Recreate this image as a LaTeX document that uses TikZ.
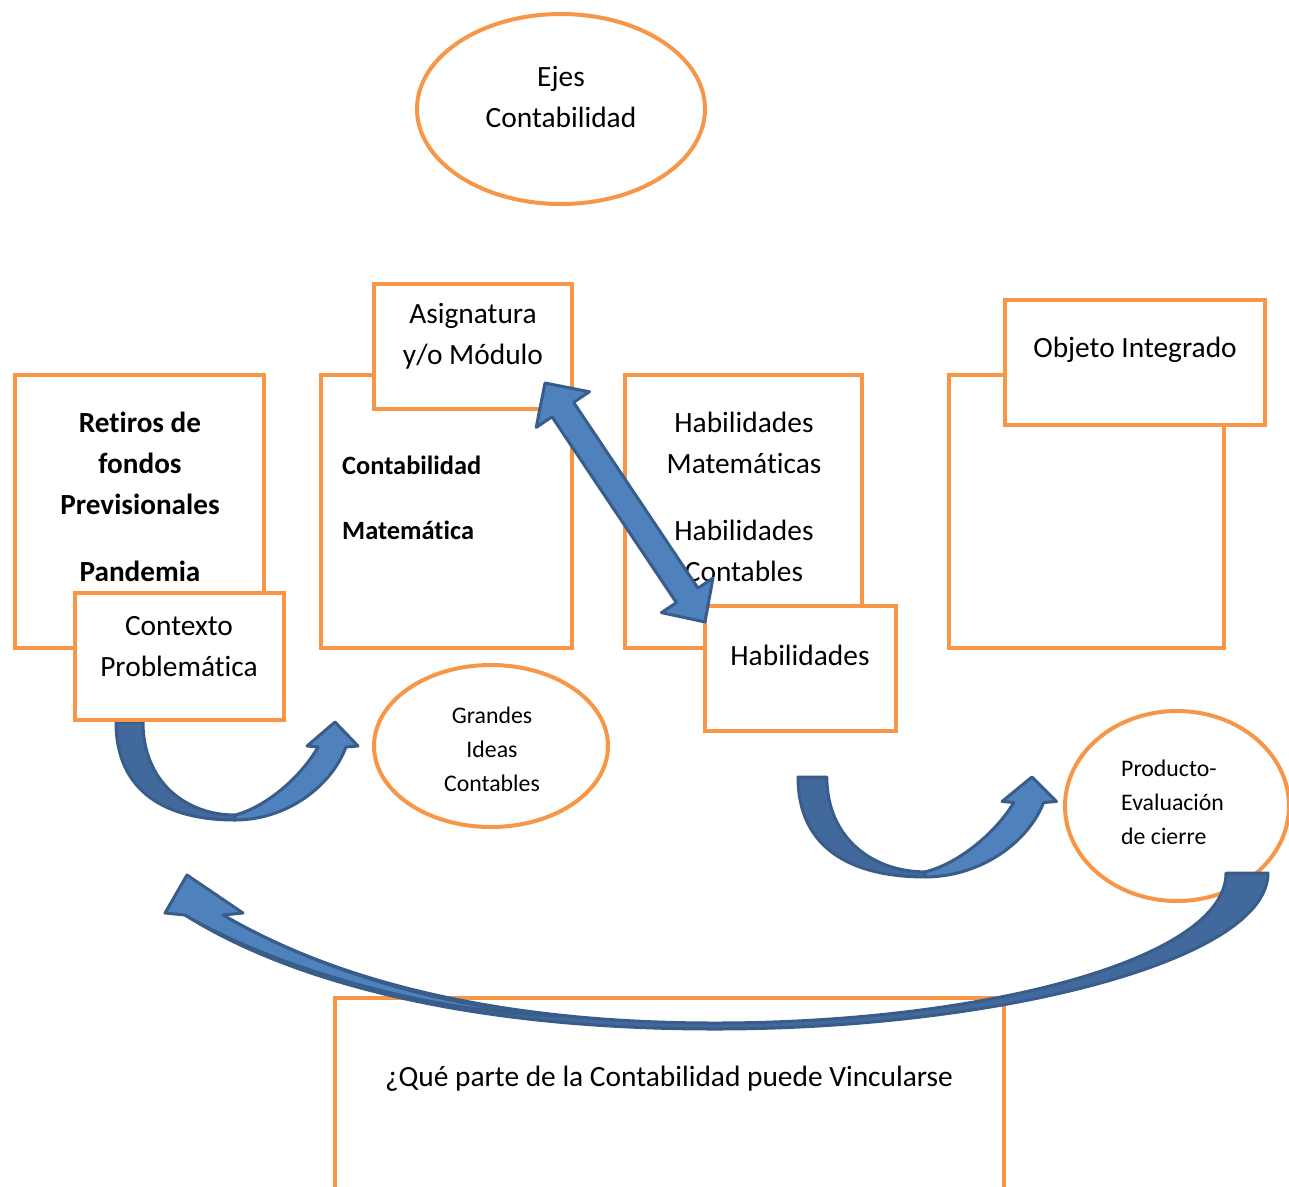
\documentclass[tikz,border=0pt]{standalone}
\usepackage{fontspec}
\setmainfont{Carlito}[Ligatures=NoCommon]
\usetikzlibrary{shapes.geometric}

\definecolor{orangeline}{HTML}{F79646}
\definecolor{arrowfill}{HTML}{4F81BD}
\definecolor{arrowshade}{HTML}{41699B}
\definecolor{arrowedge}{HTML}{385D8A}

\tikzset{
  frame/.style={draw=orangeline, line width=4pt, fill=white, inner sep=0pt},
  oval/.style={frame, ellipse},
  txt/.style={inner sep=0pt, font=\fontsize{29.4}{41}\selectfont, align=center},
  txtbold/.style={txt, font=\fontsize{29.2}{41}\selectfont\bfseries},
  txtsub/.style={inner sep=0pt, font=\fontsize{26.4}{37}\selectfont\bfseries, align=left},
  txtsmall/.style={inner sep=0pt, font=\fontsize{23.8}{34}\selectfont},
  bandfront/.style={fill=arrowfill, draw=arrowedge, line width=3pt, line join=round},
  bandback/.style={fill=arrowshade, draw=arrowedge, line width=3pt, line join=round},
}

\begin{document}
\begin{tikzpicture}[x=1pt, y=-1pt]
\useasboundingbox (0,0) rectangle (1289,1186);
\clip (0,0) rectangle (1289,1186);

% curved arrow: context -> big ideas
\begin{scope}[shift={(116,722)}]
  \path[bandback] (0,0) .. controls (0,70) and (50,98) .. (119,98)
     -- (119,93) .. controls (70,93) and (27,60) .. (27,0) -- cycle;
  \path[bandfront] (119,98) .. controls (170,98) and (215,65) .. (230,25)
     -- (242,24) -- (219,0) -- (191,24) -- (202,25)
     .. controls (185,55) and (150,85) .. (119,93) -- cycle;
\end{scope}

% curved arrow: skills -> final product
\begin{scope}[shift={(798,777)}, xscale=1.068, yscale=1.02]
  \path[bandback] (0,0) .. controls (0,70) and (50,98) .. (119,98)
     -- (119,93) .. controls (70,93) and (27,60) .. (27,0) -- cycle;
  \path[bandfront] (119,98) .. controls (170,98) and (215,65) .. (230,25)
     -- (242,24) -- (219,0) -- (191,24) -- (202,25)
     .. controls (185,55) and (150,85) .. (119,93) -- cycle;
\end{scope}

% title
\node[oval, minimum width=288pt, minimum height=190pt] (ejes) at (561,109) {};
\node[txt] (ejest) at (561,97) {Ejes\\Contabilidad};

% column 1: context
\node[frame, minimum width=249pt, minimum height=273pt] (retiros) at (139.5,511.5) {};
\node[txtbold] (retirost) at (140,497) {Retiros de\\fondos\\Previsionales\\[26pt]Pandemia};
\node[frame, minimum width=209pt, minimum height=127pt] (ctx) at (179.5,656.5) {};
\node[txt] (ctxt) at (179,647) {Contexto\\Problemática};

% column 2: subject
\node[frame, minimum width=251pt, minimum height=273pt] (asig) at (446.5,511.5) {};
\node[txtsub, anchor=west] (asigt) at (342,498) {Contabilidad\\[28pt]Matemática};
\node[frame, minimum width=198pt, minimum height=125pt] (modulo) at (473,346.5) {};
\node[txt] (modulot) at (473,336) {Asignatura\\y/o Módulo};

% column 3: skills
\node[frame, minimum width=237pt, minimum height=273pt] (habs) at (743.5,511.5) {};
\node[txt] (habst) at (744,497) {Habilidades\\Matemáticas\\[26pt]Habilidades\\Contables};
\node[frame, minimum width=191pt, minimum height=125pt] (hab) at (800.5,668.5) {};
\node[txt] (habt) at (800,655) {Habilidades};

% column 4: integrated object
\node[frame, minimum width=275pt, minimum height=273pt] (obj) at (1086.5,511.5) {};
\node[frame, minimum width=260pt, minimum height=125pt] (objint) at (1135,362.5) {};
\node[txt] (objintt) at (1135,350) {Objeto Integrado};

% ovals of the lower row
\node[oval, minimum width=234pt, minimum height=162pt] (ideas) at (491,746) {};
\node[txtsmall, align=center] (ideast) at (492,749) {Grandes\\Ideas\\Contables};
\node[oval, minimum width=224pt, minimum height=190pt] (prod) at (1177,806) {};
\node[txtsmall, align=left, anchor=west] (prodt) at (1121,802) {Producto-\\Evaluación\\de cierre};

% question box, open at the bottom
\node[frame, minimum width=669pt, minimum height=252.5pt] (pregunta) at (669.5,1123.75) {};
\node[txt] (preguntat) at (669,1079) {¿Qué parte de la Contabilidad puede Vincularse};

% double arrow between subject and skills
\begin{scope}[shift={(545,383)}, rotate=-56.2]
  \path[bandfront] (0,0) -- (32,32) -- (32,13) -- (255.6,13) -- (255.6,31)
     -- (287.6,0) -- (255.6,-31) -- (255.6,-13) -- (32,-13) -- (32,-32) -- cycle;
\end{scope}

% large return arrow: final product -> context
\path[bandback] (1226,873) -- (1268,873)
   .. controls (1268,960) and (1000,1029) .. (715,1029)
   .. controls (450,1029) and (280,975) .. (185,915)
   -- (223,915)
   .. controls (300,960) and (450,1023) .. (715,1023)
   .. controls (980,1023) and (1226,960) .. (1226,873) -- cycle;
\path[bandfront] (185,915) -- (165,913) -- (187,875) -- (243,913) -- (223,915)
   .. controls (300,960) and (420,1005) .. (560,1016)
   .. controls (420,1012) and (270,965) .. (185,915) -- cycle;
\end{tikzpicture}
\end{document}
